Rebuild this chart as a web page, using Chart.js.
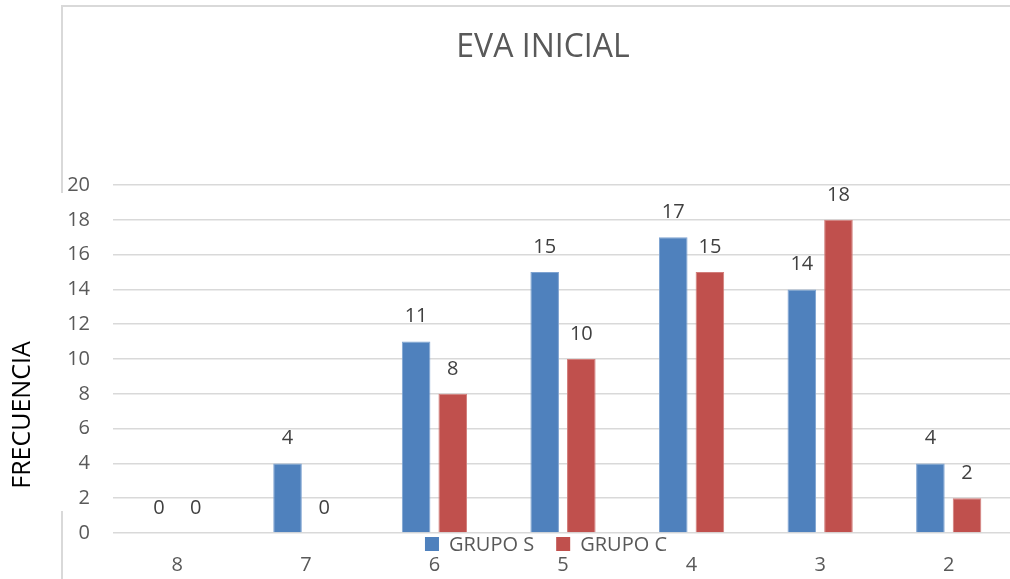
<!DOCTYPE html>
<html>
<head>
<meta charset="utf-8">
<script src="https://cdn.jsdelivr.net/npm/chart.js@4.4.0/dist/chart.umd.min.js"></script>
<style>
  html, body { margin: 0; padding: 0; background: #fff; overflow: hidden; }
  #wrap { position: relative; width: 1013px; height: 579px; }
  .frame { position: absolute; background: #d9d9d9; }
</style>
</head>
<body>
<div id="wrap">
  <canvas id="barChart" width="1013" height="579"></canvas>
  <div class="frame" style="left:62px;top:5px;width:960px;height:2px"></div>
  <div class="frame" style="left:61px;top:5px;width:2px;height:188px"></div>
  <div class="frame" style="left:61px;top:511px;width:2px;height:70px"></div>
</div>
<script>
// categories (grades) and frequencies
var categories = ["8", "7", "6", "5", "4", "3", "2"]
var grupoS = [0, 4, 11, 15, 17, 14, 4]
var grupoC = [0, 0, 8, 10, 15, 18, 2]
var yTicks = [0, 2, 4, 6, 8, 10, 12, 14, 16, 18, 20]

var chartTitle = "EVA INICIAL"
var yTitle = "FRECUENCIA"
var FONT = "'Open Sans', 'Noto Sans', sans-serif"

// labels over bars, title, y title and legend drawn by hand
var extras = {
  id: 'extras',
  afterDatasetsDraw: function(chart) {
    var ctx = chart.ctx
    ctx.save()
    ctx.fillStyle = '#404040'
    ctx.font = '20px ' + FONT
    ctx.textAlign = 'center'
    ctx.textBaseline = 'middle'
    chart.data.datasets.forEach(function(ds, i) {
      chart.getDatasetMeta(i).data.forEach(function(bar, j) {
        ctx.fillText(ds.data[j], bar.x, bar.y - 25)
      })
    })
    ctx.restore()
  },
  afterDraw: function(chart) {
    var ctx = chart.ctx
    var area = chart.chartArea
    ctx.save()
    // title
    ctx.fillStyle = '#595959'
    ctx.font = '32px ' + FONT
    ctx.textAlign = 'center'
    ctx.textBaseline = 'middle'
    ctx.fillText(chartTitle, 543, 48)

    // y axis title
    ctx.save()
    ctx.translate(23, 415)
    ctx.rotate(-Math.PI / 2)
    ctx.fillStyle = '#000'
    ctx.font = '25px ' + FONT
    ctx.fillText(yTitle, 0, 0)
    ctx.restore()

    // legend, centred just under the zero line
    ctx.font = '20px ' + FONT
    ctx.textAlign = 'left'
    var items = chart.data.datasets.map(function(ds) {
      return { label: ds.label, color: ds.backgroundColor, w: ctx.measureText(ds.label).width }
    })
    var total = 0
    items.forEach(function(it, k) { total += 14 + 10 + it.w + (k ? 22 : 0) })
    var x = 546 - total / 2
    var y = area.bottom + 11
    items.forEach(function(it) {
      ctx.fillStyle = it.color
      ctx.fillRect(x, y - 7, 14, 14)
      ctx.fillStyle = '#595959'
      ctx.fillText(it.label, x + 24, y + 1)
      x += 14 + 10 + it.w + 22
    })
    ctx.restore()
  }
}

var ctxB = document.getElementById("barChart").getContext('2d')
var myBarChart = new Chart(ctxB, {
  type: 'bar',
  data: {
    labels: categories,
    datasets: [{
      label: "GRUPO S",
      data: grupoS,
      backgroundColor: '#4F81BD',
      borderColor: '#7ea3d1',
      borderWidth: 1
    },
    {
      label: "GRUPO C",
      data: grupoC,
      backgroundColor: '#C0504D',
      borderColor: '#d27d7a',
      borderWidth: 1
    }]
  },
  options: {
    responsive: false,
    animation: false,
    categoryPercentage: 0.57,
    barPercentage: 0.78,
    layout: { padding: { top: 185, right: 0, bottom: 0, left: 0 } },
    plugins: {
      legend: { display: false },
      title: { display: false },
      tooltip: { enabled: false }
    },
    scales: {
      x: {
        afterFit: function(scale) { scale.height = 46 },
        grid: { display: false, drawTicks: false },
        border: { display: false },
        ticks: { color: '#595959', font: { family: FONT, size: 20 }, padding: 20 }
      },
      y: {
        min: 0,
        max: 20,
        afterFit: function(scale) { scale.width = 113 },
        afterBuildTicks: function(scale) {
          scale.ticks = yTicks.map(function(v) { return { value: v } })
        },
        grid: { color: '#d9d9d9', lineWidth: 1.5, drawTicks: false },
        border: { display: false },
        ticks: { color: '#595959', font: { family: FONT, size: 20 }, padding: 23 }
      }
    }
  },
  plugins: [extras]
});
</script>
</body>
</html>
